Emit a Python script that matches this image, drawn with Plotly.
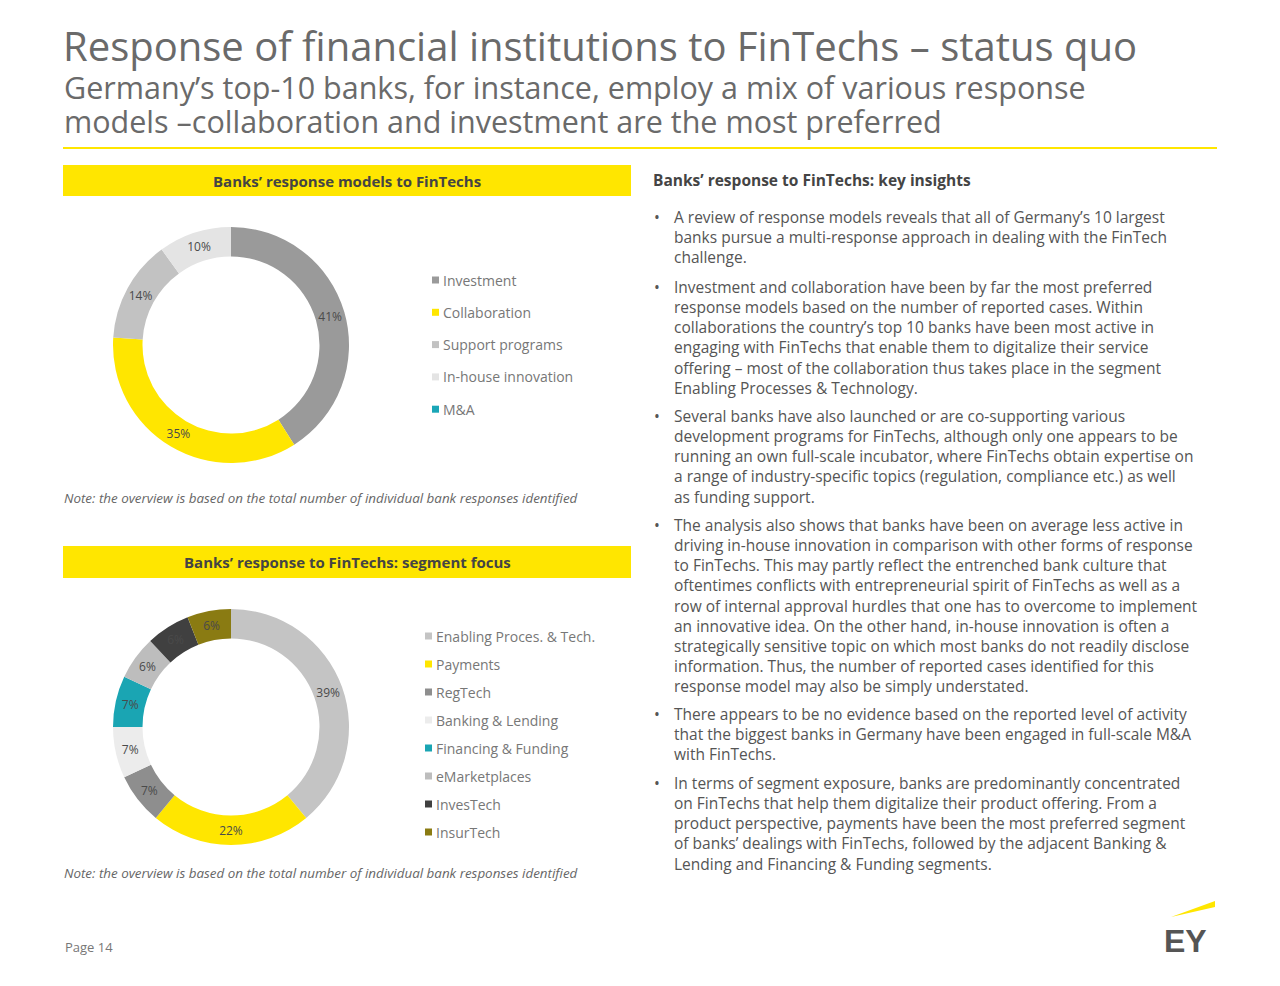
import plotly.graph_objects as go

W, H = 1280, 986

# donut 1: response models
models = ["Investment", "Collaboration", "Support programs", "In-house innovation", "M&A"]
model_pct = [41, 35, 14, 10, 0]
model_colors = ["#9a9a9a", "#ffe600", "#c2c2c2", "#e4e4e4", "#1aa6b7"]

# donut 2: segment focus
segments = ["Enabling Proces. & Tech.", "Payments", "RegTech", "Banking & Lending",
            "Financing & Funding", "eMarketplaces", "InvesTech", "InsurTech"]
segment_pct = [39, 22, 7, 7, 7, 6, 6, 6]
segment_colors = ["#c4c4c4", "#ffe600", "#8e8e8e", "#ececec", "#1aa5b3", "#bdbdbd", "#404040", "#8a7b12"]

bullets = [
    "A review of response models reveals that all of Germany’s 10 largest<br>banks pursue a multi-response approach in dealing with the FinTech<br>challenge.",
    "Investment and collaboration have been by far the most preferred<br>response models based on the number of reported cases. Within<br>collaborations the country’s top 10 banks have been most active in<br>engaging with FinTechs that enable them to digitalize their service<br>offering – most of the collaboration thus takes place in the segment<br>Enabling Processes & Technology.",
    "Several banks have also launched or are co-supporting various<br>development programs for FinTechs, although only one appears to be<br>running an own full-scale incubator, where FinTechs obtain expertise on<br>a range of industry-specific topics (regulation, compliance etc.) as well<br>as funding support.",
    "The analysis also shows that banks have been on average less active in<br>driving in-house innovation in comparison with other forms of response<br>to FinTechs. This may partly reflect the entrenched bank culture that<br>oftentimes conflicts with entrepreneurial spirit of FinTechs as well as a<br>row of internal approval hurdles that one has to overcome to implement<br>an innovative idea. On the other hand, in-house innovation is often a<br>strategically sensitive topic on which most banks do not readily disclose<br>information. Thus, the number of reported cases identified for this<br>response model may also be simply understated.",
    "There appears to be no evidence based on the reported level of activity<br>that the biggest banks in Germany have been engaged in full-scale M&A<br>with FinTechs.",
    "In terms of segment exposure, banks are predominantly concentrated<br>on FinTechs that help them digitalize their product offering. From a<br>product perspective, payments have been the most preferred segment<br>of banks’ dealings with FinTechs, followed by the adjacent Banking &<br>Lending and Financing & Funding segments.",
]
bullet_top = [205, 275, 404, 513, 702, 771]

FONT = "Open Sans"
DX, DY = 9, 9  # page offset compensation


def px(x):
    return (x - DX) / W


def py(y):
    return 1 - (y - DY) / H


def donut(labels, values, colors, cx, cy, r):
    return go.Pie(
        labels=labels, values=values, hole=0.75, sort=False, direction="clockwise", rotation=0,
        marker=dict(colors=colors, line=dict(color="white", width=0)),
        texttemplate="%{value}%", textposition="inside", insidetextorientation="horizontal",
        textfont=dict(size=12, color="#4a4a4a", family=FONT),
        domain=dict(x=[px(cx - r), px(cx + r)], y=[py(cy + r), py(cy - r)]),
        showlegend=False, hoverinfo="label+percent",
    )


fig = go.Figure()
fig.add_trace(donut(models, model_pct, model_colors, 232, 346, 118))
fig.add_trace(donut(segments, segment_pct, segment_colors, 232, 728, 118))

ann = []
shapes = []

ann.append(dict(x=px(62), y=py(47), text="Response of financial institutions to FinTechs – status quo",
                font=dict(size=40, color="#6a6a6a", family=FONT), xanchor="left", yanchor="middle"))
for y, txt in [(88, "Germany’s top-10 banks, for instance, employ a mix of various response"),
               (122, "models –collaboration and investment are the most preferred")]:
    ann.append(dict(x=px(63), y=py(y), text=txt, font=dict(size=30.5, color="#6a6a6a", family=FONT),
                    xanchor="left", yanchor="middle"))
shapes.append(dict(type="line", x0=px(64), x1=px(1218), y0=py(149), y1=py(149), line=dict(color="#ffe600", width=2)))

for y0, y1, txt in [(166, 197, "Banks’ response models to FinTechs"), (547, 579, "Banks’ response to FinTechs: segment focus")]:
    shapes.append(dict(type="rect", x0=px(64), x1=px(632), y0=py(y1), y1=py(y0), fillcolor="#ffe600", line=dict(width=0)))
    ann.append(dict(x=px(348), y=py((y0 + y1) / 2), text="<b>" + txt + "</b>", font=dict(size=15, color="#444444", family=FONT),
                    xanchor="center", yanchor="middle"))

for y, txt in [(499, "Note: the overview is based on the total number of individual bank responses identified"),
               (874, "Note: the overview is based on the total number of individual bank responses identified")]:
    ann.append(dict(x=px(63), y=py(y), text="<i>" + txt + "</i>", font=dict(size=13.4, color="#666666", family=FONT),
                    xanchor="left", yanchor="middle"))


def legend(labels, colors, x, y0, step):
    for i, (lab, c) in enumerate(zip(labels, colors)):
        y = y0 + i * step
        shapes.append(dict(type="rect", x0=px(x), x1=px(x + 7), y0=py(y + 3.5), y1=py(y - 3.5),
                           fillcolor=c, line=dict(width=0)))
        ann.append(dict(x=px(x + 9), y=py(y), text=lab, font=dict(size=14, color="#777777", family=FONT),
                        xanchor="left", yanchor="middle"))


legend(models, model_colors, 433, 281, 32.3)
legend(segments, segment_colors, 426, 637, 28)

ann.append(dict(x=px(652), y=py(181), text="<b>Banks’ response to FinTechs: key insights</b>",
                font=dict(size=15.5, color="#444444", family=FONT), xanchor="left", yanchor="middle"))
for top, txt in zip(bullet_top, bullets):
    ann.append(dict(x=px(653), y=py(top), text="•", font=dict(size=15.5, color="#555555", family=FONT),
                    xanchor="left", yanchor="top"))
    ann.append(dict(x=px(673), y=py(top), text=txt, font=dict(size=15.5, color="#555555", family=FONT),
                    xanchor="left", yanchor="top", align="left"))

ann.append(dict(x=px(64), y=py(948), text="Page 14", font=dict(size=13, color="#777777", family=FONT),
                xanchor="left", yanchor="middle"))
ann.append(dict(x=px(1210), y=py(942), text="<b>EY</b>", font=dict(size=32, color="#555555", family="Liberation Sans"),
                xanchor="right", yanchor="middle"))
shapes.append(dict(type="path", path=f"M {px(1172)} {py(918)} L {px(1216)} {py(902)} L {px(1216)} {py(908)} Z",
                   fillcolor="#ffe600", line=dict(width=0)))

for a in ann:
    a.update(xref="paper", yref="paper", showarrow=False)
for s in shapes:
    s.update(xref="paper", yref="paper")

fig.update_layout(width=W, height=H, margin=dict(l=0, r=0, t=0, b=0), paper_bgcolor="white",
                  plot_bgcolor="white", annotations=ann, shapes=shapes, font=dict(family=FONT))
fig.write_html("out.html")
